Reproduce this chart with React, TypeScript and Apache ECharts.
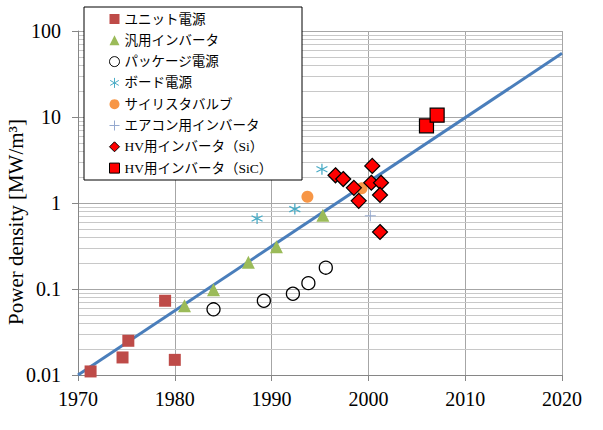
import { useEffect, useRef } from 'react';
import * as echarts from 'echarts';

// Power density [MW/m³] by year, one list of [year, value] per product group
const unitPower: [number, number][] = [
  [1971.3, 0.011], [1974.6, 0.016], [1975.2, 0.025], [1979.0, 0.073], [1980.0, 0.015],
];
const generalInverter: [number, number][] = [
  [1981.0, 0.064], [1984.0, 0.098], [1987.6, 0.204], [1990.5, 0.31], [1995.3, 0.72],
];
const packagePower: [number, number][] = [
  [1984.0, 0.058], [1989.2, 0.073], [1992.2, 0.088], [1993.8, 0.117], [1995.6, 0.177],
];
const boardPower: [number, number][] = [
  [1988.5, 0.66], [1992.4, 0.85], [1995.2, 2.47],
];
const thyristorValve: [number, number][] = [
  [1993.7, 1.18], [1999.3, 1.48],
];
const acInverter: [number, number][] = [
  [2000.2, 0.71],
];
const hvSi: [number, number][] = [
  [1996.6, 2.1], [1997.4, 1.9], [1998.5, 1.5], [1999.0, 1.06], [2000.4, 2.7],
  [2000.3, 1.72], [2001.3, 1.72], [2001.2, 1.24], [2001.2, 0.46],
];
const hvSiC: [number, number][] = [
  [2006.0, 7.9], [2007.1, 10.5],
];

// Trend line end points
const trendYears = [1970, 2020];
const trendValues = [0.01, 55];

// Axis ticks
const yTickLabels = ['0.01', '0.1', '1', '10', '100'];
const minorGridValues = [
  0.02, 0.03, 0.04, 0.05, 0.06, 0.07, 0.08, 0.09,
  0.2, 0.3, 0.4, 0.5, 0.6, 0.7, 0.8, 0.9,
  2, 3, 4, 5, 6, 7, 8, 9,
  20, 30, 40, 50, 60, 70, 80, 90,
];

const seriesNames = [
  'ユニット電源',
  '汎用インバータ',
  'パッケージ電源',
  'ボード電源',
  'サイリスタバルブ',
  'エアコン用インバータ',
  'HV用インバータ（Si）',
  'HV用インバータ（SiC）',
];

const serif = "'Liberation Serif', 'Times New Roman', serif";
const legendFont = "'Liberation Serif', 'Noto Sans CJK JP', sans-serif";

const asteriskPath = 'path://M0,-10L0,10M-8.66,-5L8.66,5M-8.66,5L8.66,-5';
const plusPath = 'path://M-10,0L10,0M0,-10L0,10';

export default function App() {
  const ref = useRef<HTMLDivElement>(null);

  useEffect(() => {
    if (!ref.current) return;
    const chart = echarts.init(ref.current, undefined, { renderer: 'svg' });

    const option = {
      animation: false,
      backgroundColor: '#ffffff',
      grid: { left: 78, right: 41, top: 31, bottom: 55, outerBoundsMode: 'none' },
      xAxis: {
        type: 'value',
        min: 1970,
        max: 2020,
        interval: 10,
        name: 'Year',
        nameLocation: 'middle',
        nameGap: 54,
        nameTextStyle: { fontFamily: serif, fontSize: 21, color: '#000' },
        axisLine: { show: true, onZero: false, lineStyle: { color: '#868686', width: 1 } },
        axisTick: { show: true, inside: false, length: 6, lineStyle: { color: '#868686' } },
        axisLabel: {
          fontFamily: serif,
          fontSize: 20,
          color: '#000',
          margin: 14,
          formatter: (v: number) => String(Math.round(v)),
        },
        splitLine: { show: true, lineStyle: { color: '#A6A6A6', width: 1 } },
      },
      yAxis: {
        type: 'log',
        logBase: 10,
        min: 0.01,
        max: 100,
        axisLine: { show: true, onZero: false, lineStyle: { color: '#868686', width: 1 } },
        axisTick: { show: true, inside: false, length: 6, lineStyle: { color: '#868686' } },
        axisLabel: {
          fontFamily: serif,
          fontSize: 20,
          color: '#000',
          margin: 17,
          formatter: (v: number) => yTickLabels[Math.round(Math.log10(v)) + 2] ?? String(v),
        },
        splitLine: { show: true, lineStyle: { color: '#A6A6A6', width: 1 } },
      },
      legend: {
        orient: 'vertical',
        left: 109,
        top: 12,
        padding: 0,
        itemWidth: 10,
        itemHeight: 10,
        itemGap: 7.3,
        selectedMode: false,
        z: 10,
        itemStyle: { opacity: 1 },
        textStyle: { fontFamily: legendFont, fontSize: 13.5, lineHeight: 14, color: '#000' },
        data: [
          { name: seriesNames[0], icon: 'rect', itemStyle: { color: '#BE4B48', opacity: 1 } },
          { name: seriesNames[1], icon: 'triangle', itemStyle: { color: '#9BBB59', opacity: 1 } },
          { name: seriesNames[2], icon: 'circle', itemStyle: { color: '#fff', borderColor: '#000', borderWidth: 1, opacity: 1 } },
          { name: seriesNames[3], icon: asteriskPath, itemStyle: { color: '#4BACC6', borderColor: '#4BACC6', borderWidth: 1, opacity: 1 } },
          { name: seriesNames[4], icon: 'circle', itemStyle: { color: '#F79646', opacity: 1 } },
          { name: seriesNames[5], icon: plusPath, itemStyle: { color: '#95A9CF', borderColor: '#95A9CF', borderWidth: 1, opacity: 1 } },
          { name: seriesNames[6], icon: 'diamond', itemStyle: { color: '#FF0000', borderColor: '#000', borderWidth: 1, opacity: 1 } },
          { name: seriesNames[7], icon: 'rect', itemStyle: { color: '#FF0000', borderColor: '#000', borderWidth: 1, opacity: 1 } },
        ],
      },
      graphic: [
        {
          type: 'rect',
          z: 5,
          shape: { x: 84, y: 7, width: 218, height: 173 },
          style: { fill: '#ffffff', stroke: '#000000', lineWidth: 1 },
        },
        {
          type: 'text',
          z: 5,
          x: 16,
          y: 222,
          rotation: Math.PI / 2,
          style: {
            text: 'Power density [MW/m³]',
            fontFamily: serif,
            fontSize: 21,
            fill: '#000',
            align: 'center',
            verticalAlign: 'middle',
          },
        },
      ],
      series: [
        {
          name: 'minor-grid',
          type: 'line',
          data: [],
          z: 0,
          silent: true,
          markLine: {
            z: 0,
            silent: true,
            symbol: ['none', 'none'],
            label: { show: false },
            lineStyle: { color: '#C8C8C8', width: 1, type: 'solid' },
            data: minorGridValues.map((v) => ({ yAxis: v })),
          },
        },
        {
          name: 'trend',
          type: 'line',
          z: 2,
          symbol: 'none',
          silent: true,
          lineStyle: { color: '#4A7EBB', width: 3 },
          data: trendYears.map((y, i) => [y, trendValues[i]]),
        },
        {
          name: seriesNames[0], type: 'scatter', z: 3, symbol: 'rect', symbolSize: 12,
          itemStyle: { color: '#BE4B48', opacity: 1 }, data: unitPower,
        },
        {
          name: seriesNames[1], type: 'scatter', z: 3, symbol: 'triangle', symbolSize: 13,
          itemStyle: { color: '#9BBB59', opacity: 1 }, data: generalInverter,
        },
        {
          name: seriesNames[2], type: 'scatter', z: 3, symbol: 'circle', symbolSize: 13,
          itemStyle: { color: 'rgba(255,255,255,0)', borderColor: '#000', borderWidth: 1.3, opacity: 1 }, data: packagePower,
        },
        {
          name: seriesNames[3], type: 'scatter', z: 3, symbol: asteriskPath, symbolSize: 11,
          itemStyle: { color: '#4BACC6', borderColor: '#4BACC6', borderWidth: 1.3, opacity: 1 }, data: boardPower,
        },
        {
          name: seriesNames[4], type: 'scatter', z: 3, symbol: 'circle', symbolSize: 12,
          itemStyle: { color: '#F79646', opacity: 1 }, data: thyristorValve,
        },
        {
          name: seriesNames[5], type: 'scatter', z: 3, symbol: plusPath, symbolSize: 11,
          itemStyle: { color: '#95A9CF', borderColor: '#95A9CF', borderWidth: 1, opacity: 1 }, data: acInverter,
        },
        {
          name: seriesNames[6], type: 'scatter', z: 3, symbol: 'diamond', symbolSize: 15,
          itemStyle: { color: '#FF0000', borderColor: '#000', borderWidth: 1.2, opacity: 1 }, data: hvSi,
        },
        {
          name: seriesNames[7], type: 'scatter', z: 3, symbol: 'rect', symbolSize: 14,
          itemStyle: { color: '#FF0000', borderColor: '#000', borderWidth: 1.2, opacity: 1 }, data: hvSiC,
        },
      ],
    };

    chart.setOption(option as any);
    return () => chart.dispose();
  }, []);

  return (
    <div
      ref={ref}
      style={{ position: 'fixed', left: 0, top: 0, width: 603, height: 430, background: '#fff' }}
    />
  );
}
